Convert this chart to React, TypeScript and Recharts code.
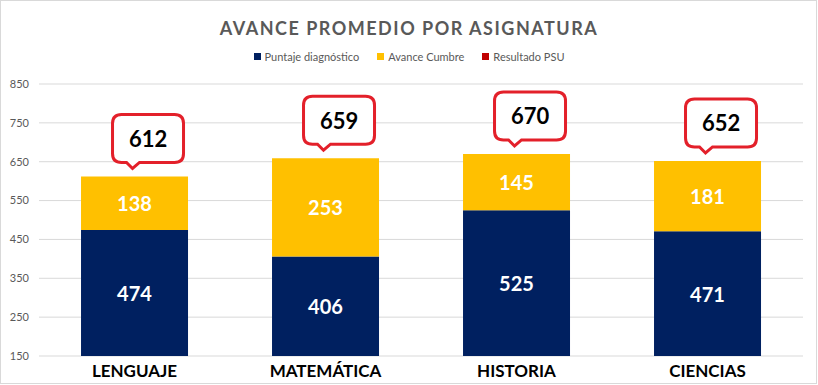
import { Bar, BarChart, CartesianGrid, LabelList, XAxis, YAxis } from 'recharts'

const categories = ['LENGUAJE', 'MATEMÁTICA', 'HISTORIA', 'CIENCIAS']
const diagnostico = [474, 406, 525, 471]
const avance = [138, 253, 145, 181]
const yTicks = [150, 250, 350, 450, 550, 650, 750, 850]
const legendNames = ['Puntaje diagnóstico', 'Avance Cumbre', 'Resultado PSU']
const legendColors = ['#002060', '#FFC000', '#C00000']

const data = categories.map((name, i) => ({
  name,
  diagnostico: diagnostico[i],
  avance: avance[i],
  total: diagnostico[i] + avance[i],
}))

const W = 818
const H = 385
const X_AXIS_H = 29
const PLOT_BOTTOM = H - X_AXIS_H
const FONT = 'Lato, "Open Sans", sans-serif'

function calloutPath(l: number, t: number, r: number, b: number, tipX: number, tipY: number, baseL: number, baseR: number, rad: number) {
  return [
    `M${l + rad},${t}`,
    `H${r - rad}`,
    `Q${r},${t} ${r},${t + rad}`,
    `V${b - rad}`,
    `Q${r},${b} ${r - rad},${b}`,
    `H${baseR}`,
    `L${tipX},${tipY}`,
    `L${baseL},${b}`,
    `H${l + rad}`,
    `Q${l},${b} ${l},${b - rad}`,
    `V${t + rad}`,
    `Q${l},${t} ${l + rad},${t}`,
    'Z',
  ].join(' ')
}

function TotalCallout(props: any) {
  const { x, y, width, index } = props
  const cx = Number(x) + Number(width) / 2
  const top = Number(y)
  const total = data[index]?.total ?? props.value
  const l = cx - 22
  const r = cx + 49
  const t = top - 62
  const b = top - 14
  return (
    <g>
      <path
        d={calloutPath(l, t, r, b, cx - 2, top - 8, cx - 8, cx + 5, 9)}
        fill="#fff"
        stroke="#E3202A"
        strokeWidth={3}
      />
      <text
        x={(l + r) / 2}
        y={(t + b) / 2}
        textAnchor="middle"
        dominantBaseline="central"
        fontFamily={FONT}
        fontWeight={700}
        fontSize={22}
        fill="#000"
      >
        {total}
      </text>
    </g>
  )
}

function SegmentLabel(props: any) {
  const { x, y, width, height, value } = props
  const yTop = Number(y)
  const yBottom = Math.min(yTop + Number(height), PLOT_BOTTOM)
  return (
    <text
      x={Number(x) + Number(width) / 2}
      y={(yTop + yBottom) / 2}
      textAnchor="middle"
      dominantBaseline="central"
      fontFamily={FONT}
      fontWeight={700}
      fontSize={20}
      fill="#fff"
    >
      {value}
    </text>
  )
}

export default function App() {
  return (
    <div style={{ position: 'absolute', left: 0, top: 0, width: W, height: H, background: '#fff' }}>
      <div
        style={{
          position: 'absolute',
          top: 17,
          left: 0,
          width: W,
          textAlign: 'center',
          fontFamily: FONT,
          fontWeight: 700,
          fontSize: 18,
          letterSpacing: 1.5,
          color: '#595959',
        }}
      >
        AVANCE PROMEDIO POR ASIGNATURA
      </div>
      {/* legend drawn outside the chart so it does not push the plot down */}
      <div
        style={{
          position: 'absolute',
          top: 50,
          left: 0,
          width: W,
          display: 'flex',
          justifyContent: 'center',
          gap: 18,
          fontFamily: FONT,
          fontSize: 11,
          color: '#595959',
        }}
      >
        {legendNames.map((n, i) => (
          <span key={n} style={{ display: 'flex', alignItems: 'center', gap: 4 }}>
            <span style={{ width: 7, height: 7, background: legendColors[i], display: 'inline-block' }} />
            {n}
          </span>
        ))}
      </div>
      <BarChart width={W} height={H} data={data} margin={{ top: 84, right: 15, bottom: 0, left: 0 }} barCategoryGap="22%">
        <CartesianGrid vertical={false} stroke="#d9d9d9" />
        <XAxis
          dataKey="name"
          height={X_AXIS_H}
          axisLine={false}
          tickLine={false}
          tickSize={0}
          tickMargin={9}
          tick={{ fill: '#000', fontSize: 17, fontWeight: 700, fontFamily: FONT }}
        />
        <YAxis
          width={39}
          domain={[150, 850]}
          ticks={yTicks}
          allowDataOverflow
          axisLine={false}
          tickLine={false}
          tickSize={0}
          tickMargin={10}
          tick={{ fill: '#595959', fontSize: 11, fontFamily: FONT }}
        />
        <Bar dataKey="diagnostico" name={legendNames[0]} stackId="a" fill={legendColors[0]} isAnimationActive={false}>
          <LabelList dataKey="diagnostico" content={SegmentLabel} />
        </Bar>
        <Bar dataKey="avance" name={legendNames[1]} stackId="a" fill={legendColors[1]} isAnimationActive={false}>
          <LabelList dataKey="avance" content={SegmentLabel} />
          <LabelList dataKey="total" content={TotalCallout} />
        </Bar>
      </BarChart>
      <div
        style={{
          position: 'absolute',
          left: 0,
          top: 0,
          width: W - 1,
          height: H - 1,
          border: '1px solid #d9d9d9',
          boxSizing: 'border-box',
          pointerEvents: 'none',
        }}
      />
    </div>
  )
}
